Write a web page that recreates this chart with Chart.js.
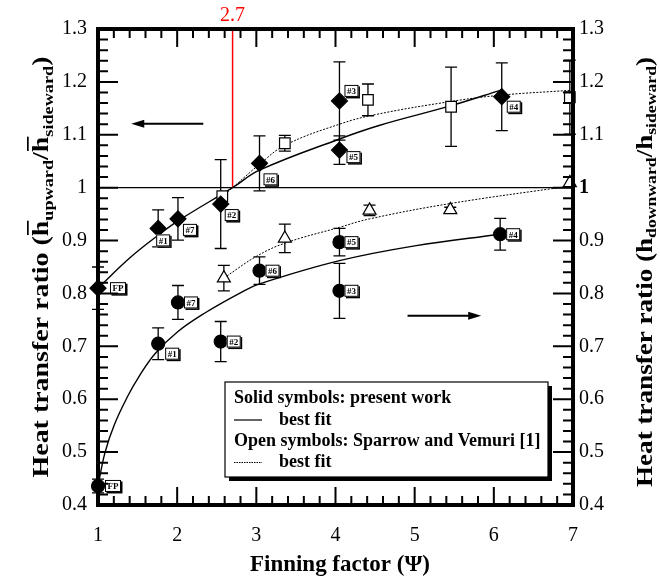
<!DOCTYPE html>
<html lang="en">

<head>
  <meta charset="UTF-8">
  <title>Heat transfer ratio vs finning factor</title>
  <script src="https://cdn.jsdelivr.net/npm/chart.js"></script>
  <style>
    body { margin: 0; background: #fff; }
    canvas { display: block; }
  </style>
</head>

<body>
  <canvas id="grafico" width="660" height="584"></canvas>

<script>
  // present work, upward (left axis) - solid diamonds
  const upX = [1, 1.76, 2.01, 2.55, 3.04, 4.05, 4.05, 6.10];
  const upY = [0.81, 0.923, 0.941, 0.969, 1.046, 1.164, 1.071, 1.172];
  const upErr = [0.04, 0.035, 0.04, 0.084, 0.052, 0.074, 0.027, 0.064];
  const upTags = ['FP', '#1', '#7', '#2', '#6', '#3', '#5', '#4'];

  // present work, downward (right axis) - solid circles
  const dnX = [1, 1.76, 2.01, 2.55, 3.04, 4.05, 4.05, 6.08];
  const dnY = [0.436, 0.705, 0.783, 0.709, 0.843, 0.805, 0.897, 0.912];
  const dnErr = [0.013, 0.03, 0.032, 0.038, 0.026, 0.052, 0.026, 0.03];
  const dnTags = ['FP', '#1', '#7', '#2', '#6', '#3', '#5', '#4'];

  // Sparrow and Vemuri [1] - open squares (upward) and triangles (downward)
  const svUpX = [2.57, 3.36, 4.41, 5.46, 6.96];
  const svUpY = [0.984, 1.084, 1.166, 1.153, 1.171];
  const svUpErr = [0, 0.015, 0.03, 0.075, 0.07];
  const svDnX = [2.59, 3.36, 4.43, 5.45, 6.96];
  const svDnY = [0.829, 0.904, 0.957, 0.958, 1.009];
  const svDnErr = [0.024, 0.027, 0.01, 0.005, 0];

  // best fit curves
  const fitUpX = [1, 1.4, 1.76, 2.03, 2.7, 3.04, 4.05, 4.56, 5.46, 6.1];
  const fitUpY = [0.81, 0.867, 0.91, 0.939, 1.0, 1.033, 1.092, 1.118, 1.155, 1.185];
  const fitSvUpX = [2.57, 2.7, 3.04, 3.36, 4.05, 4.5, 5.46, 6.1, 6.96];
  const fitSvUpY = [0.983, 1.0, 1.044, 1.08, 1.12, 1.138, 1.163, 1.175, 1.184];
  const fitDnX = [1, 1.09, 1.21, 1.38, 1.51, 1.72, 2.01, 2.35, 2.81, 3.04, 4.05, 5, 6.08];
  const fitDnY = [0.436, 0.5, 0.553, 0.607, 0.641, 0.686, 0.728, 0.763, 0.802, 0.818, 0.862, 0.89, 0.912];
  const fitSvDnX = [2.59, 3.0, 3.36, 4.05, 4.43, 5.45, 6.96];
  const fitSvDnY = [0.829, 0.87, 0.895, 0.925, 0.941, 0.97, 1.003];

  const xTicks = [1, 2, 3, 4, 5, 6, 7];
  const yTicks = [0.4, 0.5, 0.6, 0.7, 0.8, 0.9, 1.0, 1.1, 1.2, 1.3];
  const criticalPsi = 2.7;

  // label box offsets (px) next to each marker
  const upTagOff = [[20, 0], [5, 12], [12, 11], [11, 11], [11, 16], [12, -10], [14, 7], [12, 10]];
  const dnTagOff = [[15, 0], [14, 10], [13, 0], [13, 0], [13, 0], [12, 0], [12, 0], [13, 0]];

  const serif = '"Liberation Serif", "Times New Roman", serif';

  function pts(xs, ys) {
    return xs.map((x, i) => ({ x: x, y: ys[i] }));
  }

  function fitLine(xs, ys, eixo, dash) {
    return {
      data: pts(xs, ys), yAxisID: eixo, showLine: true,
      borderColor: '#000', borderWidth: dash ? 1 : 1.4, borderDash: dash ? [2, 1.5] : [],
      pointRadius: 0, tension: 0.4, order: 5
    };
  }

  function marker(xs, ys, eixo, estilo, raio, cheio) {
    return {
      data: pts(xs, ys), yAxisID: eixo, showLine: false, clip: false,
      pointStyle: estilo, pointRadius: raio, pointHoverRadius: raio,
      backgroundColor: cheio ? '#000' : '#fff', borderColor: '#000', borderWidth: 1.2, order: 1
    };
  }

  const series = [
    { xs: upX, ys: upY, err: upErr, eixo: 'y' },
    { xs: dnX, ys: dnY, err: dnErr, eixo: 'y2' },
    { xs: svUpX, ys: svUpY, err: svUpErr, eixo: 'y' },
    { xs: svDnX, ys: svDnY, err: svDnErr, eixo: 'y2' }
  ];

  function arrow(ctx, x0, y0, x1, y1) {
    const ang = Math.atan2(y1 - y0, x1 - x0);
    ctx.beginPath();
    ctx.lineWidth = 2;
    ctx.moveTo(x0, y0);
    ctx.lineTo(x1 - 8 * Math.cos(ang), y1 - 8 * Math.sin(ang));
    ctx.stroke();
    ctx.beginPath();
    ctx.moveTo(x1, y1);
    ctx.lineTo(x1 - 13 * Math.cos(ang) - 4 * Math.sin(ang), y1 - 13 * Math.sin(ang) + 4 * Math.cos(ang));
    ctx.lineTo(x1 - 13 * Math.cos(ang) + 4 * Math.sin(ang), y1 - 13 * Math.sin(ang) - 4 * Math.cos(ang));
    ctx.closePath();
    ctx.fill();
  }

  // title with subscripts / overbars, stretched to the length it has in the figure
  function richTitle(ctx, parts, cx, cy, comp, rot) {
    ctx.save();
    ctx.translate(cx, cy);
    ctx.rotate(rot);
    let total = 0;
    parts.forEach(p => {
      ctx.font = 'bold ' + p.size + 'px ' + serif;
      p.w = ctx.measureText(p.t).width;
      total += p.w;
    });
    ctx.scale(comp / total, 1);
    let x = -total / 2;
    ctx.textAlign = 'left';
    ctx.textBaseline = 'alphabetic';
    parts.forEach(p => {
      ctx.font = 'bold ' + p.size + 'px ' + serif;
      ctx.fillText(p.t, x, 8 + (p.dy || 0));
      if (p.bar) ctx.fillRect(x + 1, 8 - 21, p.w - 1, 1.7);
      x += p.w;
    });
    ctx.restore();
  }

  function tagBox(ctx, txt, cx, cy) {
    ctx.font = 'bold 9px ' + serif;
    const w = Math.max(13, ctx.measureText(txt).width + 5);
    const h = 12;
    ctx.fillStyle = '#000';
    ctx.fillRect(cx - w / 2 + 1.5, cy - h / 2 + 1.5, w, h);
    ctx.fillStyle = '#fff';
    ctx.fillRect(cx - w / 2, cy - h / 2, w, h);
    ctx.strokeStyle = '#000';
    ctx.lineWidth = 1;
    ctx.strokeRect(cx - w / 2 + 0.5, cy - h / 2 + 0.5, w - 1, h - 1);
    ctx.fillStyle = '#000';
    ctx.textAlign = 'center';
    ctx.textBaseline = 'middle';
    ctx.fillText(txt, cx, cy + 1);
  }

  const decoracao = {
    id: 'decoracao',
    beforeDatasetsDraw(chart) {
      const ctx = chart.ctx, sx = chart.scales.x, sy = chart.scales.y;
      ctx.save();
      // line at ratio = 1
      ctx.strokeStyle = '#000';
      ctx.lineWidth = 1.2;
      ctx.beginPath();
      ctx.moveTo(sx.getPixelForValue(1), sy.getPixelForValue(1));
      ctx.lineTo(sx.getPixelForValue(7), sy.getPixelForValue(1));
      ctx.stroke();
      // critical finning factor
      ctx.strokeStyle = '#ff0000';
      ctx.lineWidth = 1.5;
      ctx.beginPath();
      ctx.moveTo(sx.getPixelForValue(criticalPsi), sy.getPixelForValue(1.3));
      ctx.lineTo(sx.getPixelForValue(criticalPsi), sy.getPixelForValue(1));
      ctx.stroke();
      // error bars
      ctx.strokeStyle = '#000';
      ctx.lineWidth = 1.3;
      series.forEach(s => {
        const esc = chart.scales[s.eixo];
        s.xs.forEach((x, i) => {
          if (!s.err[i]) return;
          const px = sx.getPixelForValue(x);
          const top = esc.getPixelForValue(s.ys[i] + s.err[i]);
          const bot = esc.getPixelForValue(s.ys[i] - s.err[i]);
          ctx.beginPath();
          ctx.moveTo(px, top); ctx.lineTo(px, bot);
          ctx.moveTo(px - 6, top); ctx.lineTo(px + 6, top);
          ctx.moveTo(px - 6, bot); ctx.lineTo(px + 6, bot);
          ctx.stroke();
        });
      });
      ctx.restore();
    },
    afterDatasetsDraw(chart) {
      const ctx = chart.ctx, a = chart.chartArea;
      const sx = chart.scales.x, sy = chart.scales.y, sy2 = chart.scales.y2;
      ctx.save();

      // marker labels
      upX.forEach((x, i) => tagBox(ctx, upTags[i], sx.getPixelForValue(x) + upTagOff[i][0], sy.getPixelForValue(upY[i]) + upTagOff[i][1]));
      dnX.forEach((x, i) => tagBox(ctx, dnTags[i], sx.getPixelForValue(x) + dnTagOff[i][0], sy2.getPixelForValue(dnY[i]) + dnTagOff[i][1]));

      // inward tick marks, major and minor
      ctx.strokeStyle = '#000';
      ctx.lineWidth = 2;
      ctx.beginPath();
      for (let k = 0; k <= 30; k++) {
        const v = 1 + k * 0.2;
        const px = sx.getPixelForValue(v);
        const len = k % 5 === 0 ? 18 : 9;
        ctx.moveTo(px, a.bottom); ctx.lineTo(px, a.bottom - len);
        ctx.moveTo(px, a.top); ctx.lineTo(px, a.top + len);
      }
      for (let k = 0; k <= 45; k++) {
        const v = 0.4 + k * 0.02;
        const py = sy.getPixelForValue(v);
        const len = k % 5 === 0 ? 20 : 10;
        ctx.moveTo(a.left, py); ctx.lineTo(a.left + len, py);
        ctx.moveTo(a.right, py); ctx.lineTo(a.right - len, py);
      }
      ctx.stroke();

      // frame
      ctx.lineWidth = 4;
      ctx.strokeRect(a.left, a.top, a.right - a.left, a.bottom - a.top);

      // arrows: which axis each group belongs to
      ctx.fillStyle = '#000';
      arrow(ctx, sx.getPixelForValue(2.33), sy.getPixelForValue(1.121), sx.getPixelForValue(1.42), sy.getPixelForValue(1.121));
      arrow(ctx, sx.getPixelForValue(4.91), sy2.getPixelForValue(0.758), sx.getPixelForValue(5.84), sy2.getPixelForValue(0.758));

      // legend box
      const lx = 225, ly = 382, lw = 323, lh = 95;
      ctx.fillRect(lx + 4, ly + 4, lw, lh);
      ctx.fillStyle = '#fff';
      ctx.fillRect(lx, ly, lw, lh);
      ctx.lineWidth = 1.2;
      ctx.strokeRect(lx, ly, lw, lh);
      ctx.fillStyle = '#000';
      ctx.font = 'bold 18px ' + serif;
      ctx.textAlign = 'left';
      ctx.textBaseline = 'middle';
      ctx.fillText('Solid symbols: present work', 234, 398);
      ctx.fillText('best fit', 279, 420);
      ctx.fillText('Open symbols: Sparrow and Vemuri [1]', 234, 441.5);
      ctx.fillText('best fit', 279, 462.5);
      ctx.lineWidth = 1.2;
      ctx.beginPath();
      ctx.moveTo(234, 420); ctx.lineTo(262, 420);
      ctx.stroke();
      ctx.lineWidth = 1;
      ctx.setLineDash([1.5, 1]);
      ctx.beginPath();
      ctx.moveTo(234, 462.5); ctx.lineTo(262, 462.5);
      ctx.stroke();
      ctx.setLineDash([]);

      // critical value label
      ctx.fillStyle = '#ff0000';
      ctx.font = '20px ' + serif;
      ctx.textAlign = 'center';
      ctx.textBaseline = 'middle';
      ctx.fillText('2.7', sx.getPixelForValue(criticalPsi), 16);

      // axis titles
      ctx.fillStyle = '#000';
      richTitle(ctx, [{ t: 'Finning factor (\u03A8)', size: 23 }], 340, 563, 180, 0);
      richTitle(ctx, [
        { t: 'Heat transfer ratio (', size: 23 },
        { t: 'h', size: 23, bar: true },
        { t: 'upward', size: 15, dy: 5 },
        { t: '/', size: 23 },
        { t: 'h', size: 23, bar: true },
        { t: 'sideward', size: 15, dy: 5 },
        { t: ')', size: 23 }
      ], 40, 267, 421, -Math.PI / 2);
      richTitle(ctx, [
        { t: 'Heat transfer ratio (', size: 23 },
        { t: 'h', size: 23 },
        { t: 'downward', size: 15, dy: 4 },
        { t: '/', size: 23 },
        { t: 'h', size: 23 },
        { t: 'sideward', size: 15, dy: 4 },
        { t: ')', size: 23 }
      ], 644, 272, 430, -Math.PI / 2);
      ctx.restore();
    }
  };

  const fonteTick = { family: serif, size: 20 };
  const eixoY = (pos, largura, pad, negritoNoUm) => ({
    type: 'linear', position: pos, min: 0.4, max: 1.3,
    border: { display: false },
    grid: { display: false, drawTicks: false },
    ticks: {
      stepSize: 0.1, padding: pad, color: '#000',
      font: c => (negritoNoUm && c.tick && Math.abs(c.tick.value - 1) < 1e-6) ? { family: serif, size: 20, weight: 'bold' } : fonteTick,
      callback: v => String(+v.toFixed(1))
    },
    afterBuildTicks: s => { s.ticks = yTicks.map(v => ({ value: v })); },
    afterFit: s => { s.width = largura; }
  });

  const grafico = new Chart(document.getElementById('grafico'), {
    type: 'scatter',
    data: {
      datasets: [
        marker(upX, upY, 'y', 'rectRot', 8, true),
        marker(dnX, dnY, 'y2', 'circle', 6.5, true),
        marker(svUpX, svUpY, 'y', 'rect', 7.5, false),
        marker(svDnX, svDnY, 'y2', 'triangle', 7.5, false),
        fitLine(fitUpX, fitUpY, 'y', false),
        fitLine(fitSvUpX, fitSvUpY, 'y', true),
        fitLine(fitDnX, fitDnY, 'y2', false),
        fitLine(fitSvDnX, fitSvDnY, 'y2', true)
      ]
    },
    options: {
      responsive: false,
      animation: false,
      devicePixelRatio: 1,
      layout: { padding: { top: 29 } },
      plugins: { legend: { display: false }, tooltip: { enabled: false } },
      scales: {
        x: {
          type: 'linear', min: 1, max: 7,
          border: { display: false },
          grid: { display: false, drawTicks: false },
          ticks: { stepSize: 1, padding: 19, color: '#000', font: fonteTick, maxRotation: 0 },
          afterBuildTicks: s => { s.ticks = xTicks.map(v => ({ value: v })); },
          afterFit: s => { s.height = 79; }
        },
        y: eixoY('left', 98, 11, false),
        y2: eixoY('right', 87, 6, true)
      }
    },
    plugins: [decoracao]
  });
</script>
</body>

</html>
